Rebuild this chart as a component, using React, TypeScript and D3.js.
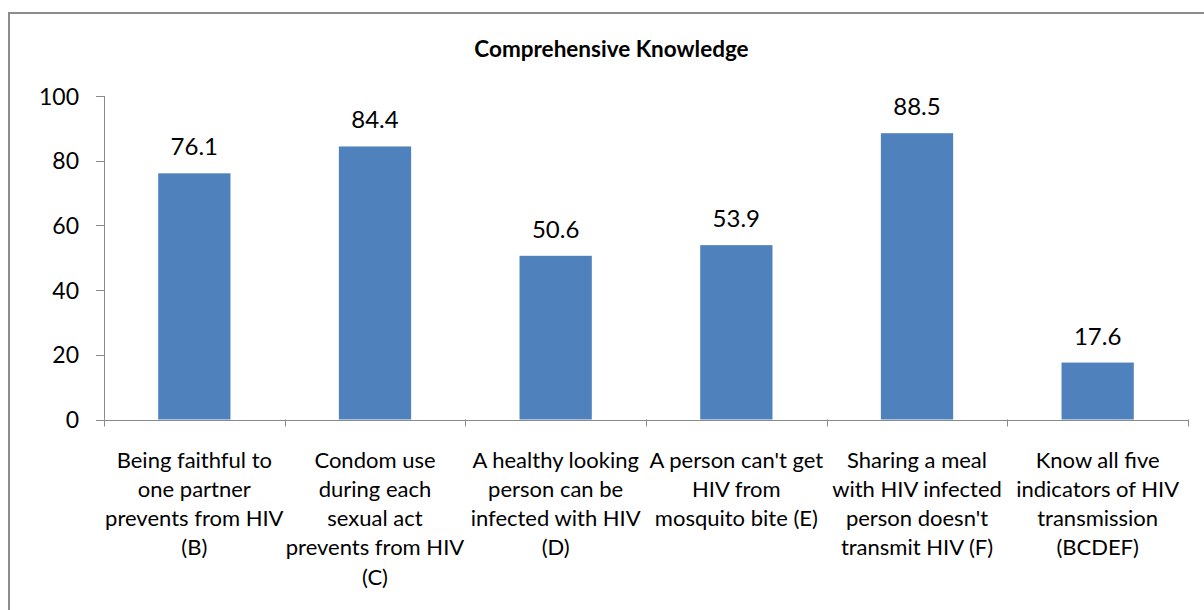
import React from "react";
import * as d3 from "d3";

const categories = ["B", "C", "D", "E", "F", "BCDEF"];
const values = [76.1, 84.4, 50.6, 53.9, 88.5, 17.6];
const categoryLabels = [
  ["Being faithful to", "one partner", "prevents from HIV", "(B)"],
  ["Condom use", "during each", "sexual act", "prevents from HIV", "(C)"],
  ["A healthy looking", "person can be", "infected with HIV", "(D)"],
  ["A person can't get", "HIV from", "mosquito bite (E)"],
  ["Sharing a meal", "with HIV infected", "person doesn't", "transmit HIV (F)"],
  ["Know all five", "indicators of HIV", "transmission", "(BCDEF)"],
];
const yTicks = [0, 20, 40, 60, 80, 100];
const title = "Comprehensive Knowledge";

const W = 1204;
const H = 610;
const plotLeft = 104;
const plotRight = 1188;
const plotTop = 96;
const plotBottom = 419.5;
const FONT = "Lato, 'Open Sans', sans-serif";
const AXIS = "#8a8a8a";
const BAR = "#4F81BD";

export default function App() {
  const x = d3
    .scaleBand<string>()
    .domain(categories)
    .range([plotLeft, plotRight])
    .paddingInner(0.6)
    .paddingOuter(0.3);
  const band = d3.scaleBand<string>().domain(categories).range([plotLeft, plotRight]);
  const y = d3.scaleLinear().domain([0, 100]).range([plotBottom, plotTop]);
  const boundaries = d3.range(categories.length + 1).map((i) => plotLeft + i * band.step());

  return (
    <svg
      width={W}
      height={H}
      style={{ position: "absolute", left: 0, top: 0, display: "block" }}
    >
      <rect x={0} y={0} width={W} height={H} fill="#ffffff" />
      <rect x={9} y={13} width={W + 20} height={H + 20} fill="none" stroke="#8c8c8c" strokeWidth={2} />
      <text
        x={611.5}
        y={56.5}
        textAnchor="middle"
        fontFamily={FONT}
        fontWeight="bold"
        fontSize={22.5}
        fill="#000"
      >
        {title}
      </text>

      {/* y axis */}
      <line x1={plotLeft + 0.5} x2={plotLeft + 0.5} y1={plotTop} y2={plotBottom} stroke={AXIS} strokeWidth={1} />
      {yTicks.map((t) => (
        <g key={t}>
          <line x1={plotLeft - 8} x2={plotLeft} y1={Math.round(y(t)) + 0.5} y2={Math.round(y(t)) + 0.5} stroke={AXIS} />
          <text
            x={79}
            y={y(t) + 8.5}
            textAnchor="end"
            fontFamily={FONT}
            fontSize={23}
            fill="#000"
          >
            {t}
          </text>
        </g>
      ))}

      {/* bars */}
      {categories.map((c, i) => (
        <g key={c}>
          <rect x={x(c)} y={y(values[i])} width={x.bandwidth()} height={plotBottom - y(values[i])} fill={BAR} />
          <text
            x={x(c)! + x.bandwidth() / 2}
            y={y(values[i]) - 18}
            textAnchor="middle"
            fontFamily={FONT}
            fontSize={24}
            fill="#000"
          >
            {values[i].toFixed(1)}
          </text>
        </g>
      ))}

      {/* x axis */}
      <line x1={plotLeft} x2={plotRight} y1={Math.round(plotBottom) + 0.5} y2={Math.round(plotBottom) + 0.5} stroke={AXIS} />
      {boundaries.map((bx, i) => (
        <line key={i} x1={Math.round(bx) + 0.5} x2={Math.round(bx) + 0.5} y1={plotBottom} y2={plotBottom + 7} stroke={AXIS} />
      ))}
      {categories.map((c, i) => (
        <text
          key={c}
          x={band(c)! + band.bandwidth() / 2}
          y={467.5}
          textAnchor="middle"
          fontFamily={FONT}
          fontSize={22}
          fill="#000"
        >
          {categoryLabels[i].map((ln, j) => (
            <tspan key={j} x={band(c)! + band.bandwidth() / 2} dy={j === 0 ? 0 : 29.3}>
              {ln}
            </tspan>
          ))}
        </text>
      ))}
    </svg>
  );
}
